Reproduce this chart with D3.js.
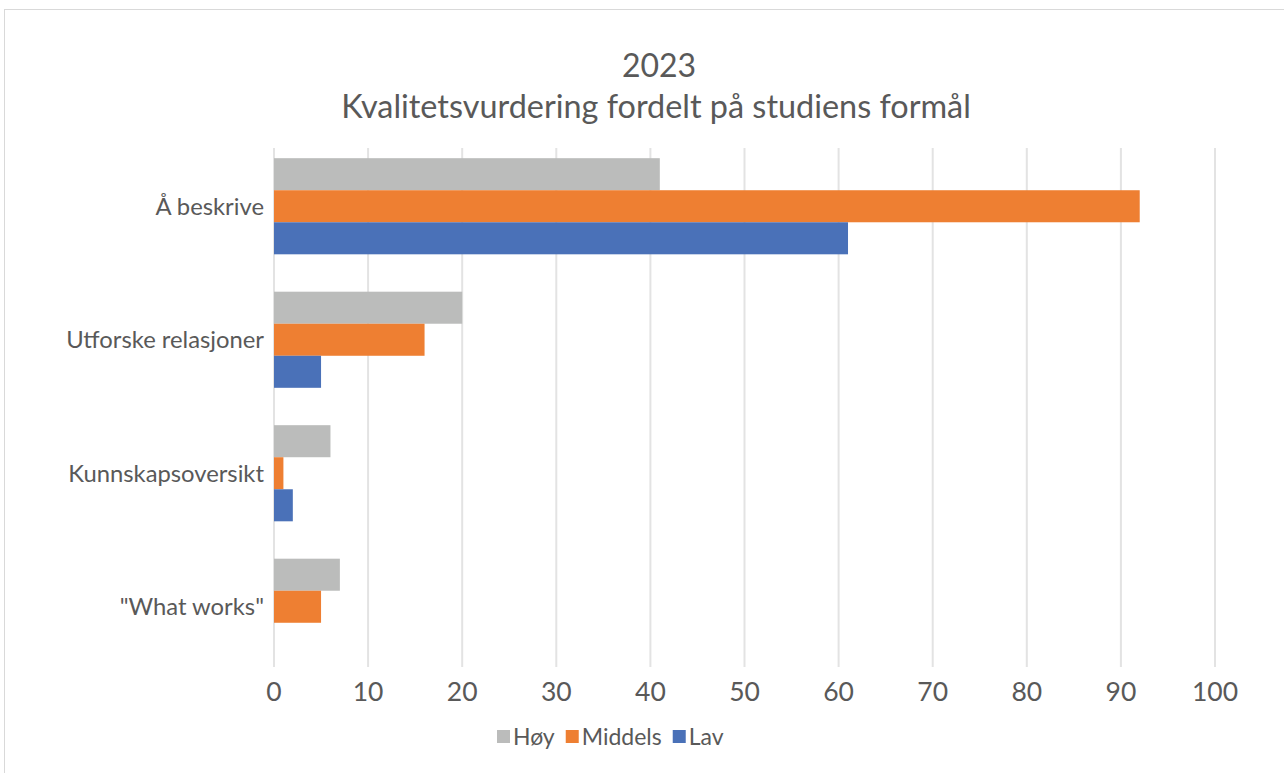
<!DOCTYPE html>
<html>
<head>
<meta charset="utf-8">
<script src="https://cdn.jsdelivr.net/npm/d3@7"></script>
<style>
  body { margin: 0; background: #fff; }
  svg text { font-family: Lato, "Open Sans", sans-serif; fill: #595959; }
</style>
</head>
<body>
<div id="chart"></div>
<script>
const categories = ["Å beskrive", "Utforske relasjoner", "Kunnskapsoversikt", "\"What works\""];
const seriesNames = ["Høy", "Middels", "Lav"];
const hoy = [41, 20, 6, 7];
const middels = [92, 16, 1, 5];
const lav = [61, 5, 2, 0];
const xTicks = [0, 10, 20, 30, 40, 50, 60, 70, 80, 90, 100];
const colors = ["#BBBCBB", "#EE7F32", "#4A71B8"];

const width = 1284, height = 773;
const values = [hoy, middels, lav];

const svg = d3.select("#chart").append("svg")
  .attr("width", width)
  .attr("height", height);

// chart frame
svg.append("rect")
  .attr("x", 4.5).attr("y", 9.5)
  .attr("width", width + 10).attr("height", height + 10)
  .attr("fill", "none")
  .attr("stroke", "#D9D9D9");

const x = d3.scaleLinear().domain([0, 100]).range([274, 1215]);
const y = d3.scaleBand().domain(categories).range([139.5, 673.5]).paddingInner(0.28).paddingOuter(0.14);
const ySub = d3.scaleBand().domain(seriesNames).range([0, y.bandwidth()]);

// grid
svg.append("g").selectAll("line")
  .data(xTicks)
  .enter()
  .append("line")
  .attr("x1", d => x(d)).attr("x2", d => x(d))
  .attr("y1", 148).attr("y2", 667)
  .attr("stroke", "#E3E3E3")
  .attr("stroke-width", 2);

// bars
const groups = svg.append("g").selectAll("g")
  .data(categories)
  .enter()
  .append("g")
  .attr("transform", d => "translate(0," + y(d) + ")");

groups.selectAll("rect")
  .data((c, i) => seriesNames.map((s, j) => ({s: s, v: values[j][i], c: colors[j]})))
  .enter()
  .append("rect")
  .attr("x", x(0))
  .attr("y", d => ySub(d.s))
  .attr("width", d => x(d.v) - x(0))
  .attr("height", ySub.bandwidth())
  .attr("fill", d => d.c);

// x axis labels
svg.append("g").selectAll("text")
  .data(xTicks)
  .enter()
  .append("text")
  .attr("x", d => x(d))
  .attr("y", 701)
  .attr("text-anchor", "middle")
  .attr("font-size", 26.5)
  .text(d => d);

// category labels
svg.append("g").selectAll("text")
  .data(categories)
  .enter()
  .append("text")
  .attr("x", 264)
  .attr("y", d => y(d) + y.bandwidth() / 2)
  .attr("dy", "0.35em")
  .attr("text-anchor", "end")
  .attr("font-size", 23.8)
  .text(d => d);

// title
svg.append("text")
  .attr("x", 659).attr("y", 77)
  .attr("text-anchor", "middle")
  .attr("font-size", 32)
  .text("2023");
svg.append("text")
  .attr("x", 656).attr("y", 118)
  .attr("text-anchor", "middle")
  .attr("font-size", 32.4)
  .text("Kvalitetsvurdering fordelt på studiens formål");

// legend
const legend = svg.append("g").attr("transform", "translate(497,737)");
let lx = 0;
seriesNames.forEach((s, i) => {
  const g = legend.append("g").attr("transform", "translate(" + lx + ",0)");
  g.append("rect").attr("x", 0).attr("y", -7).attr("width", 13).attr("height", 13).attr("fill", colors[i]);
  const t = g.append("text").attr("x", 16).attr("y", 0).attr("dy", "0.35em").attr("font-size", 23).text(s);
  lx += 16 + t.node().getComputedTextLength() + 11;
});
</script>
</body>
</html>
